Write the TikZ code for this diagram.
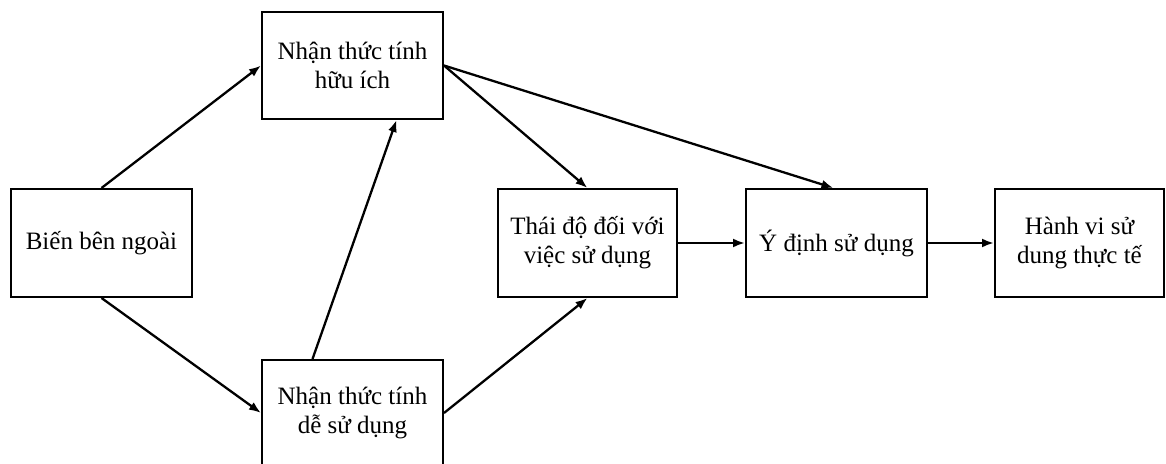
\documentclass[tikz,border=0pt]{standalone}
\usepackage{fontspec}
\setmainfont{Liberation Serif}
\usetikzlibrary{arrows.meta}
\begin{document}
\begin{tikzpicture}[x=1pt,y=-1pt,
  box/.style={draw,line width=2pt,rectangle,inner sep=0pt,align=center,
    font=\fontsize{25}{29}\selectfont},
  conn/.style={line width=2.3pt,-{Latex[length=12pt,width=9pt]}}]
\useasboundingbox (0,0) rectangle (1166,463);
\node[box,minimum width=181pt,minimum height=108pt] (bien) at (101.5,243) {Biến bên ngoài};
\node[box,minimum width=181pt,minimum height=107pt] (huu) at (352.5,65.5) {Nhận thức tính\\hữu ích};
\node[box,minimum width=181pt,minimum height=106pt] (de) at (352.5,413) {Nhận thức tính\\dễ sử dụng};
\node[box,minimum width=179pt,minimum height=108pt] (thai) at (587.5,243) {Thái độ đối với\\việc sử dụng};
\node[box,minimum width=181pt,minimum height=108pt] (ydinh) at (836.5,243) {Ý định sử dụng};
\node[box,minimum width=169pt,minimum height=108pt] (hanh) at (1079.5,243) {Hành vi sử\\dung thực tế};
\draw[conn] (bien.north) -- (huu.west);
\draw[conn] (bien.south) -- (de.west);
\draw[conn] ([xshift=-40pt]de.north) -- ([xshift=44pt]huu.south);
\draw[conn] (huu.east) -- (thai.north);
\draw[conn] (huu.east) -- ([xshift=-3pt]ydinh.north);
\draw[conn] (de.east) -- (thai.south);
\draw[conn] (thai.east) -- (ydinh.west);
\draw[conn] (ydinh.east) -- (hanh.west);
\end{tikzpicture}
\end{document}
